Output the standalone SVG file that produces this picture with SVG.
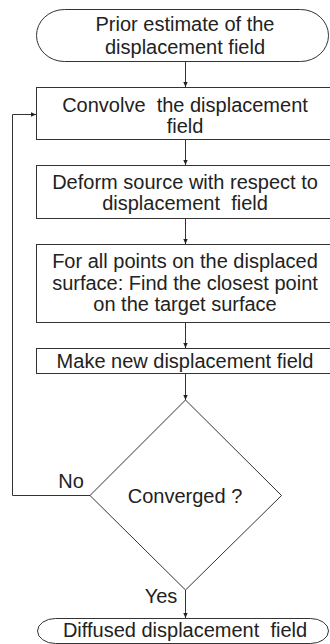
<svg xmlns="http://www.w3.org/2000/svg" width="330" height="644" viewBox="0 0 330 644">
<defs>
<marker id="ah" markerWidth="6" markerHeight="6" refX="5" refY="3" orient="auto" markerUnits="userSpaceOnUse">
<path d="M0,0.8 L5,3 L0,5.2 Z" fill="#222"/>
</marker>
<style>
.shape{fill:#fff;stroke:#333;stroke-width:1}
.conn{fill:none;stroke:#333;stroke-width:1}
text{font-family:"Liberation Sans",Arial,sans-serif;font-size:20px;fill:#222;text-anchor:middle;white-space:pre}
</style>
</defs>
<rect width="330" height="644" fill="#fff"/>
<g id="connectors">
<line class="conn" x1="185.5" y1="61" x2="185.5" y2="87" marker-end="url(#ah)"/>
<line class="conn" x1="185.5" y1="139" x2="185.5" y2="165" marker-end="url(#ah)"/>
<line class="conn" x1="185.5" y1="218" x2="185.5" y2="244" marker-end="url(#ah)"/>
<line class="conn" x1="185.5" y1="322" x2="185.5" y2="348" marker-end="url(#ah)"/>
<line class="conn" x1="185.5" y1="373" x2="185.5" y2="400" marker-end="url(#ah)"/>
<line class="conn" x1="185.5" y1="590" x2="185.5" y2="618" marker-end="url(#ah)"/>
<polyline class="conn" points="90,495.5 12.5,495.5 12.5,114.5 36,114.5" marker-end="url(#ah)"/>
<text x="71" y="488">No</text>
<text x="161" y="603">Yes</text>
</g>
<g id="start">
<rect class="shape" x="36.5" y="9.5" width="292" height="52" rx="28" ry="26"/>
<text x="185" y="31">Prior estimate of the</text>
<text x="185" y="54">displacement field</text>
</g>
<g id="convolve">
<rect class="shape" x="36.5" y="87.5" width="298" height="52"/>
<text x="185" y="112">Convolve  the displacement</text>
<text x="185" y="133">field</text>
</g>
<g id="deform">
<rect class="shape" x="36.5" y="165.5" width="298" height="53"/>
<text x="185" y="189">Deform source with respect to</text>
<text x="185" y="210">displacement  field</text>
</g>
<g id="closest">
<rect class="shape" x="36.5" y="244.5" width="298" height="78"/>
<text x="185" y="268">For all points on the displaced</text>
<text x="185" y="289.5">surface: Find the closest point</text>
<text x="185" y="311">on the target surface</text>
</g>
<g id="newfield">
<rect class="shape" x="36.5" y="348.5" width="298" height="25"/>
<text x="185" y="368">Make new displacement field</text>
</g>
<g id="converged">
<polygon class="shape" points="185.5,400 281.5,495.5 185.5,590 90,495.5"/>
<text x="185" y="503">Converged ?</text>
</g>
<g id="end">
<rect class="shape" x="37.5" y="618.5" width="291" height="25" rx="18" ry="12.5"/>
<text x="185" y="637">Diffused displacement  field</text>
</g>
</svg>
